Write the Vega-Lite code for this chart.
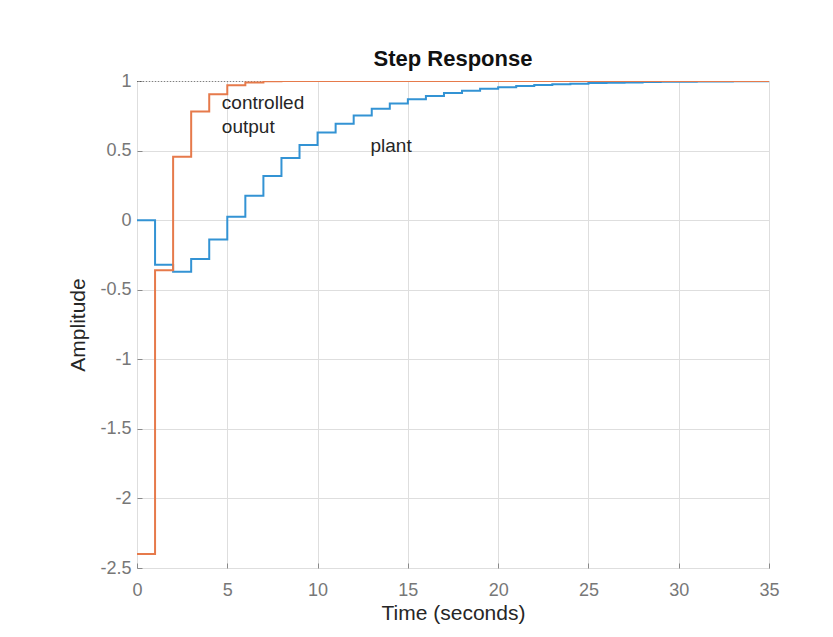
{
  "$schema": "https://vega.github.io/schema/vega-lite/v6.json",
  "autosize": "none",
  "width": 632,
  "height": 487,
  "padding": {"left": 137, "top": 81, "right": 64, "bottom": 69},
  "background": "white",
  "config": {
    "font": "Liberation Sans",
    "view": {"stroke": "#8a8a8a", "strokeWidth": 1}
  },
  "title": {
    "text": "Step Response",
    "fontSize": 22,
    "fontWeight": "bold",
    "color": "#111111",
    "font": "Liberation Sans",
    "baseline": "alphabetic",
    "offset": 14,
    "dy": 30,
    "anchor": "middle"
  },
  "datasets": {
    "resp": [
      {"t": 0, "y": 0, "s": "plant"},
      {"t": 1, "y": -0.32, "s": "plant"},
      {"t": 2, "y": -0.37, "s": "plant"},
      {"t": 3, "y": -0.28, "s": "plant"},
      {"t": 4, "y": -0.14, "s": "plant"},
      {"t": 5, "y": 0.024, "s": "plant"},
      {"t": 6, "y": 0.175, "s": "plant"},
      {"t": 7, "y": 0.317, "s": "plant"},
      {"t": 8, "y": 0.446, "s": "plant"},
      {"t": 9, "y": 0.54, "s": "plant"},
      {"t": 10, "y": 0.63, "s": "plant"},
      {"t": 11, "y": 0.693, "s": "plant"},
      {"t": 12, "y": 0.752, "s": "plant"},
      {"t": 13, "y": 0.8, "s": "plant"},
      {"t": 14, "y": 0.838, "s": "plant"},
      {"t": 15, "y": 0.868, "s": "plant"},
      {"t": 16, "y": 0.893, "s": "plant"},
      {"t": 17, "y": 0.913, "s": "plant"},
      {"t": 18, "y": 0.93, "s": "plant"},
      {"t": 19, "y": 0.944, "s": "plant"},
      {"t": 20, "y": 0.955, "s": "plant"},
      {"t": 21, "y": 0.964, "s": "plant"},
      {"t": 22, "y": 0.971, "s": "plant"},
      {"t": 23, "y": 0.977, "s": "plant"},
      {"t": 24, "y": 0.981, "s": "plant"},
      {"t": 25, "y": 0.985, "s": "plant"},
      {"t": 26, "y": 0.988, "s": "plant"},
      {"t": 27, "y": 0.99, "s": "plant"},
      {"t": 28, "y": 0.992, "s": "plant"},
      {"t": 29, "y": 0.994, "s": "plant"},
      {"t": 30, "y": 0.995, "s": "plant"},
      {"t": 31, "y": 0.996, "s": "plant"},
      {"t": 32, "y": 0.997, "s": "plant"},
      {"t": 33, "y": 0.998, "s": "plant"},
      {"t": 34, "y": 0.998, "s": "plant"},
      {"t": 35, "y": 0.998, "s": "plant"},
      {"t": 0, "y": -2.4, "s": "controlled"},
      {"t": 1, "y": -0.36, "s": "controlled"},
      {"t": 2, "y": 0.455, "s": "controlled"},
      {"t": 3, "y": 0.78, "s": "controlled"},
      {"t": 4, "y": 0.905, "s": "controlled"},
      {"t": 5, "y": 0.97, "s": "controlled"},
      {"t": 6, "y": 0.99, "s": "controlled"},
      {"t": 7, "y": 0.998, "s": "controlled"},
      {"t": 8, "y": 1, "s": "controlled"},
      {"t": 35, "y": 1, "s": "controlled"}
    ],
    "labels": [
      {"t": 4.7, "y": 0.797, "label": "controlled"},
      {"t": 4.7, "y": 0.624, "label": "output"},
      {"t": 12.93, "y": 0.492, "label": "plant"}
    ],
    "ss": [
      {"t": 0, "y": 1},
      {"t": 35, "y": 1}
    ]
  },
  "layer": [
    {
      "data": {"name": "ss"},
      "mark": {"type": "line", "color": "#222222", "strokeWidth": 1, "strokeDash": [1, 2], "clip": true},
      "encoding": {
        "x": {
          "field": "t", "type": "quantitative",
          "scale": {"domain": [0, 35], "nice": false, "zero": false},
          "axis": {
            "values": [0, 5, 10, 15, 20, 25, 30, 35],
            "labelExpr": "'' + datum.value",
            "title": "Time (seconds)",
            "titleFontSize": 21,
            "titleFontWeight": "normal",
            "titleColor": "#262626",
            "titleY": 51,
            "titleBaseline": "alphabetic",
            "labelFontSize": 18,
            "labelColor": "#777777",
            "labelPadding": 18,
            "domain": false,
            "ticks": true,
            "tickSize": -5,
            "tickColor": "#8a8a8a",
            "grid": true,
            "gridColor": "#dedede",
            "labelFlush": false
          }
        },
        "y": {
          "field": "y", "type": "quantitative",
          "scale": {"domain": [-2.5, 1], "nice": false, "zero": false},
          "axis": {
            "values": [-2.5, -2, -1.5, -1, -0.5, 0, 0.5, 1],
            "labelExpr": "'' + datum.value",
            "title": "Amplitude",
            "titleFontSize": 21,
            "titleFontWeight": "normal",
            "titleColor": "#262626",
            "titleX": -53,
            "titleBaseline": "alphabetic",
            "labelFontSize": 18,
            "labelColor": "#777777",
            "labelPadding": 11,
            "domain": false,
            "ticks": true,
            "tickSize": -5,
            "tickColor": "#8a8a8a",
            "grid": true,
            "gridColor": "#dedede",
            "labelFlush": false
          }
        }
      }
    },
    {
      "data": {"name": "resp"},
      "mark": {"type": "line", "interpolate": "step-after", "strokeWidth": 2, "clip": true},
      "encoding": {
        "x": {"field": "t", "type": "quantitative"},
        "y": {"field": "y", "type": "quantitative"},
        "color": {
          "field": "s", "type": "nominal",
          "scale": {"domain": ["plant", "controlled"], "range": ["#3393d4", "#e67a4b"]},
          "legend": null
        },
        "order": {"field": "t", "type": "quantitative"}
      }
    },
    {
      "data": {"name": "labels"},
      "mark": {"type": "text", "align": "left", "baseline": "alphabetic", "fontSize": 19, "color": "#262626", "font": "Liberation Sans"},
      "encoding": {
        "x": {"field": "t", "type": "quantitative"},
        "y": {"field": "y", "type": "quantitative"},
        "text": {"field": "label"}
      }
    }
  ]
}
